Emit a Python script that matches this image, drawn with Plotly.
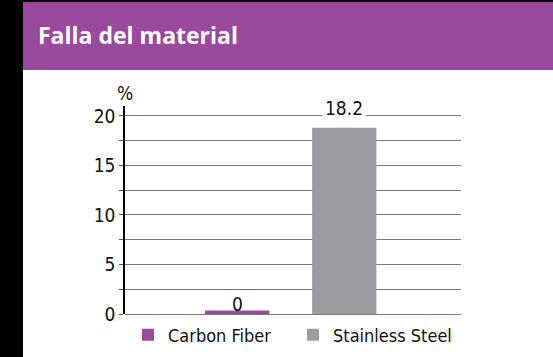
import plotly.graph_objects as go

# ---- data ----
categories = ["Carbon Fiber", "Stainless Steel"]
bar_heights = [0.35, 18.8]          # drawn bar heights
value_labels = ["0", "18.2"]         # printed value labels
colors = ["#9A4A9C", "#9D9D9F"]
y_ticks = [0, 5, 10, 15, 20]
title_text = "Falla del material"
unit_text = "%"

FONT = "Noto Sans Condensed, DejaVu Sans Condensed, Roboto Condensed, Roboto, sans-serif"
W, H = 553, 357
L, R, T, B = 125, 92, 106, 43
PW, PH = W - L - R, H - T - B

def px_x(p):
    return (p - L) / PW

def px_y(p):
    return (H - B - p) / PH

fig = go.Figure()
for cat, h, col in zip(categories, bar_heights, colors):
    fig.add_trace(go.Bar(
        x=[cat], y=[h], name=cat, marker=dict(color=col, line=dict(width=0)),
        width=0.6, showlegend=True,
    ))

# value labels
label_y = [1.05, 20.75]
for cat, txt, ly, bg in zip(categories, value_labels, label_y, [None, "white"]):
    fig.add_annotation(
        x=cat, y=ly, xref="x", yref="y", text=txt, showarrow=False,
        font=dict(family=FONT, size=19, color="#111"),
        bgcolor=bg if bg else "rgba(0,0,0,0)", xanchor="center", yanchor="middle",
        borderpad=2,
    )

# unit label
fig.add_annotation(
    x=0, y=px_y(93), xref="paper", yref="paper", text=unit_text, showarrow=False,
    font=dict(family=FONT, size=19, color="#111"), xanchor="center", yanchor="middle",
)

# header band and black strips
fig.add_shape(type="rect", xref="paper", yref="paper",
              x0=px_x(0), x1=px_x(23), y0=px_y(H), y1=px_y(0),
              fillcolor="black", line=dict(width=0), layer="below")
fig.add_shape(type="rect", xref="paper", yref="paper",
              x0=px_x(0), x1=px_x(W), y0=px_y(2), y1=px_y(0),
              fillcolor="black", line=dict(width=0), layer="below")
fig.add_shape(type="rect", xref="paper", yref="paper",
              x0=px_x(23), x1=px_x(W), y0=px_y(70), y1=px_y(2),
              fillcolor="#9A4A9C", line=dict(width=0), layer="below")
fig.add_annotation(
    x=px_x(36), y=px_y(35), xref="paper", yref="paper",
    text="<b>" + title_text + "</b>", showarrow=False,
    font=dict(family="Open Sans", size=23, color="white"),
    xanchor="left", yanchor="middle",
)

fig.update_layout(
    width=W, height=H,
    margin=dict(l=L, r=R, t=T, b=B, pad=0, autoexpand=False),
    paper_bgcolor="white", plot_bgcolor="white",
    showlegend=True,
    legend=dict(
        orientation="h", x=px_x(128), y=px_y(335), xanchor="left", yanchor="middle",
        font=dict(family=FONT, size=18, color="#111"),
        entrywidth=120, itemclick=False, bgcolor="rgba(0,0,0,0)",
        tracegroupgap=0,
    ),
    xaxis=dict(
        type="category", range=[-1.047, 2.09], showgrid=False, showline=False,
        showticklabels=False, ticks="", zeroline=False, fixedrange=True,
    ),
    yaxis=dict(
        range=[0, 21], tickvals=y_ticks, showgrid=True, gridcolor="#7A7A7A", gridwidth=1.3,
        showline=True, linecolor="black", linewidth=1.5,
        ticks="outside", ticklen=4, tickcolor="#555", tickwidth=1.2,
        tickfont=dict(family=FONT, size=19, color="#111"),
        zeroline=True, zerolinecolor="#7A7A7A", zerolinewidth=1.3,
        minor=dict(dtick=2.5, tick0=0, showgrid=True, gridcolor="#7A7A7A", gridwidth=1.3,
                   ticks="outside", ticklen=4, tickcolor="#555", tickwidth=1.2),
        fixedrange=True,
    ),
)

fig.write_html("out.html")
